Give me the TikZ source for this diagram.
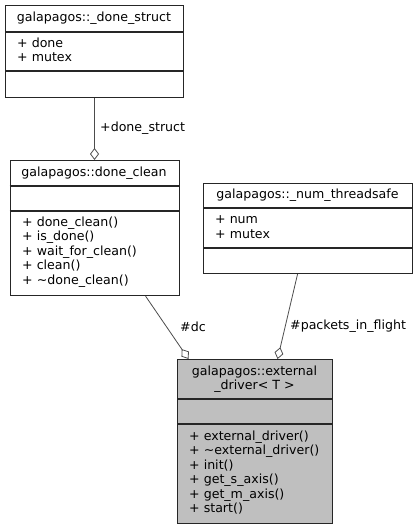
\documentclass[tikz,border=0pt]{standalone}
\usepackage{fontspec}
\setmainfont{DejaVu Sans}
\usetikzlibrary{arrows.meta}
\begin{document}
\begin{tikzpicture}[x=1pt,y=-1pt,
  font=\fontsize{12.6}{14.5}\selectfont,
  cls/.style={draw=black!85, line width=1.1pt, anchor=north west, inner sep=0pt},
  hd/.style={align=center, inner sep=0pt},
  mb/.style={anchor=west, align=left, inner sep=0pt},
  lbl/.style={anchor=west, inner sep=0pt},
  agg/.style={draw=black!70, line width=0.8pt, -{Diamond[open, length=12pt, width=9pt]}}]
\useasboundingbox (0,0) rectangle (417,529);
\node[cls, minimum width=178, minimum height=92] (struct) at (5,5){};
\draw[black!85, line width=1.1pt] (struct.west |- 0,32) -- (struct.east |- 0,32);
\draw[black!85, line width=1.1pt] (struct.west |- 0,71) -- (struct.east |- 0,71);
\node[hd] (structh) at (94,18.5){galapagos::\_done\_struct};
\node[mb] (structa) at (17,50){+ done\\+ mutex};
\node[cls, minimum width=169, minimum height=135] (clean) at (9.5,160){};
\draw[black!85, line width=1.1pt] (clean.west |- 0,186) -- (clean.east |- 0,186);
\draw[black!85, line width=1.1pt] (clean.west |- 0,211) -- (clean.east |- 0,211);
\node[hd] (cleanh) at (94,173){galapagos::done\_clean};
\node[mb] (cleanm) at (22,252){+ done\_clean()\\+ is\_done()\\+ wait\_for\_clean()\\+ clean()\\+ \textasciitilde done\_clean()};
\node[cls, minimum width=209, minimum height=90] (threads) at (203,183){};
\draw[black!85, line width=1.1pt] (threads.west |- 0,208) -- (threads.east |- 0,208);
\draw[black!85, line width=1.1pt] (threads.west |- 0,248) -- (threads.east |- 0,248);
\node[hd] (threadsh) at (307.5,195.5){galapagos::\_num\_threadsafe};
\node[mb] (threadsa) at (215,227){+ num\\+ mutex};
\node[cls, fill=black!25, minimum width=155, minimum height=164] (drv) at (177,359){};
\draw[black!85, line width=1.1pt] (drv.west |- 0,399) -- (drv.east |- 0,399);
\draw[black!85, line width=1.1pt] (drv.west |- 0,424) -- (drv.east |- 0,424);
\node[hd] (drvh) at (254.5,379){galapagos::external\\\_driver\textless{} T \textgreater};
\node[mb] (drvm) at (189,472.5){+ external\_driver()\\+ \textasciitilde external\_driver()\\+ init()\\+ get\_s\_axis()\\+ get\_m\_axis()\\+ start()};
\draw[agg] (struct.south) -- (clean.north);
\draw[agg] ([xshift=51]clean.south) -- ([xshift=-66.5]drv.north);
\draw[agg] ([xshift=-10.5]threads.south) -- ([xshift=22.5]drv.north);
\node[lbl] (l0) at (100,128){+done\_struct};
\node[lbl] (l1) at (180,327){\#dc};
\node[lbl] (l2) at (290,326){\#packets\_in\_flight};
\end{tikzpicture}
\end{document}
